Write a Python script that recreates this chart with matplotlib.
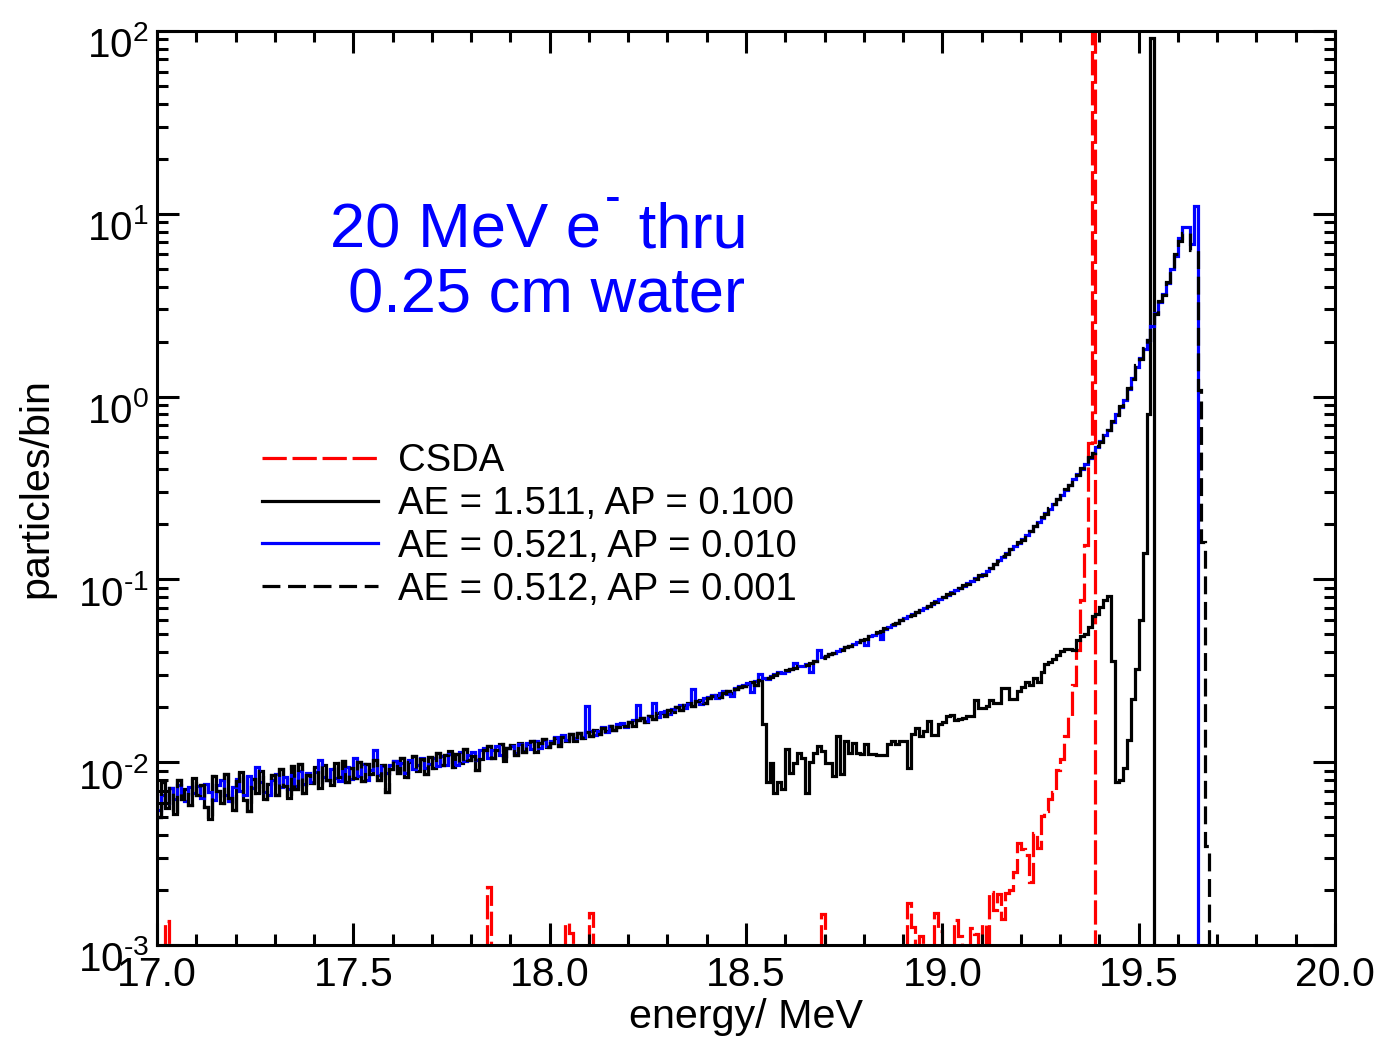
import numpy as np
import matplotlib
matplotlib.use("Agg")
import matplotlib.pyplot as plt
import matplotlib.transforms as mtransforms
from matplotlib.lines import Line2D
from matplotlib.ticker import MultipleLocator, LogLocator, FuncFormatter, NullFormatter

plt.rcParams['font.family'] = 'Liberation Sans'
plt.rcParams['mathtext.fontset'] = 'custom'
plt.rcParams['mathtext.rm'] = 'Liberation Sans'
plt.rcParams['mathtext.it'] = 'Liberation Sans:italic'

# 0.01 MeV bins from 17.00 to 20.00
e_lo, bin_w, n_bins = 17.0, 0.01, 300

# AE=1.511/AP=0.100 and AE=0.512/AP=0.001 runs agree below 18.54 MeV
black_low = [
    0.0050, 0.0078, 0.0056, 0.0072, 0.0052, 0.0080, 0.0063, 0.0071, 0.0058, 0.0082,
    0.0066, 0.0075, 0.0057, 0.0049, 0.0084, 0.0070, 0.0060, 0.0086, 0.0064, 0.0055,
    0.0079, 0.0088, 0.0062, 0.0054, 0.0081, 0.0068, 0.0090, 0.0063, 0.0076, 0.0085,
    0.0066, 0.0092, 0.0074, 0.0064, 0.0095, 0.0071, 0.0098, 0.0068, 0.0085, 0.0077,
    0.0094, 0.0072, 0.0097, 0.0080, 0.0075, 0.0099, 0.0083, 0.0101, 0.0078, 0.0093,
    0.0082, 0.0100, 0.0079, 0.0098, 0.0086, 0.0103, 0.0080, 0.0097, 0.0069, 0.0092,
    0.0101, 0.0087, 0.0106, 0.0083, 0.0100, 0.0108, 0.0089, 0.0104, 0.0086, 0.0107,
    0.0093, 0.0112, 0.0097, 0.0109, 0.0115, 0.0094, 0.0111, 0.0099, 0.0118, 0.0103,
    0.0108, 0.0091, 0.0104, 0.0116, 0.0122, 0.0105, 0.0117, 0.0125, 0.0101, 0.0119,
    0.0124, 0.0110, 0.0127, 0.0114, 0.0126, 0.0131, 0.0113, 0.0128, 0.0134, 0.0121,
    0.0127, 0.0136, 0.0122, 0.0138, 0.0130, 0.0142, 0.0131, 0.0144, 0.0135, 0.0147,
    0.0139, 0.0150, 0.0142, 0.0154, 0.0148, 0.0158, 0.0150, 0.0155, 0.0162, 0.0158,
    0.0165, 0.0158, 0.0170, 0.0175, 0.0166, 0.0180, 0.0172, 0.0185, 0.0187, 0.0180,
    0.0192, 0.0189, 0.0201, 0.0194, 0.0205, 0.0210, 0.0203, 0.0215, 0.0220, 0.0212,
    0.0224, 0.0229, 0.0234, 0.0226, 0.0240, 0.0246, 0.0238, 0.0252, 0.0257, 0.0262,
    0.0268, 0.0274, 0.0266, 0.0280,
]

# AE=1.511, AP=0.100 from 18.54 to 19.54 MeV
ap100_tail = [
    0.0161, 0.0078, 0.0099, 0.0068, 0.0078, 0.0071, 0.0118, 0.0087, 0.0099, 0.0112,
    0.0105, 0.0068, 0.0100, 0.0112, 0.0122, 0.0115, 0.0099, 0.0099, 0.0084, 0.0139,
    0.0086, 0.0130, 0.0112, 0.0128, 0.0112, 0.0111, 0.0126, 0.0111, 0.0111, 0.0110,
    0.0110, 0.0109, 0.0126, 0.0130, 0.0126, 0.0130, 0.0130, 0.0093, 0.0142, 0.0154,
    0.0139, 0.0148, 0.0168, 0.0140, 0.0140, 0.0161, 0.0165, 0.0178, 0.0182, 0.0171,
    0.0173, 0.0175, 0.0178, 0.0178, 0.0220, 0.0198, 0.0198, 0.0204, 0.0220, 0.0211,
    0.0211, 0.0254, 0.0254, 0.0221, 0.0221, 0.0245, 0.0259, 0.0276, 0.0265, 0.0288,
    0.0276, 0.0313, 0.0343, 0.0354, 0.0365, 0.0387, 0.0405, 0.0418, 0.0418, 0.0413,
    0.0465, 0.0490, 0.0500, 0.0550, 0.0630, 0.0650, 0.0710, 0.0774, 0.0810, 0.0356,
    0.0078, 0.0080, 0.0093, 0.0132, 0.0223, 0.0322, 0.0600, 0.1400, 0.8000, 92.0,
    0.0,
]

# AE=0.512, AP=0.001 from 18.54 to 19.67 MeV
ap001_tail = [
    0.0288, 0.0287, 0.0294, 0.0301, 0.0309, 0.0312,
    0.0319, 0.0325, 0.0329, 0.0336, 0.0341, 0.0340, 0.0351, 0.0358, 0.0366, 0.0372,
    0.0379, 0.0393, 0.0395, 0.0411, 0.0413, 0.0428, 0.0431, 0.0448, 0.0452, 0.0469,
    0.0473, 0.0491, 0.0495, 0.0515, 0.0522, 0.0541, 0.0549, 0.0569, 0.0577, 0.0599,
    0.0609, 0.0631, 0.0641, 0.0666, 0.0676, 0.0703, 0.0714, 0.0742, 0.0754, 0.0783,
    0.0797, 0.0828, 0.0843, 0.0878, 0.0894, 0.0931, 0.0949, 0.0989, 0.1010, 0.1053,
    0.106, 0.112, 0.115, 0.122, 0.126, 0.134, 0.138, 0.147, 0.151, 0.161,
    0.165, 0.177, 0.183, 0.197, 0.204, 0.220, 0.229, 0.246, 0.257, 0.277,
    0.288, 0.312, 0.327, 0.356, 0.372, 0.405, 0.427, 0.466, 0.490, 0.535,
    0.566, 0.620, 0.655, 0.732, 0.793, 0.888, 0.948, 1.11, 1.25, 1.48,
    1.61, 1.85, 2.03, 2.45, 2.82, 3.33, 3.60, 4.25, 4.90, 6.00,
    7.1, 7.9, 7.9, 6.3, 6.3, 1.09, 0.16, 0.0035,
]

# AE=0.521, AP=0.010 from 17.00 to 19.64 MeV
ap010 = [
    0.0055, 0.0066, 0.0060, 0.0072, 0.0063, 0.0075, 0.0067, 0.0061, 0.0073, 0.0068,
    0.0074, 0.0064, 0.0076, 0.0069, 0.0062, 0.0075, 0.0080, 0.0066, 0.0061, 0.0073,
    0.0081, 0.0070, 0.0066, 0.0084, 0.0072, 0.0094, 0.0078, 0.0069, 0.0066, 0.0080,
    0.0086, 0.0073, 0.0083, 0.0071, 0.0085, 0.0074, 0.0089, 0.0076, 0.0087, 0.0078,
    0.0088, 0.0103, 0.0083, 0.0080, 0.0092, 0.0082, 0.0079, 0.0090, 0.0094, 0.0081,
    0.0106, 0.0084, 0.0098, 0.0080, 0.0091, 0.0117, 0.0085, 0.0095, 0.0087, 0.0097,
    0.0101, 0.0088, 0.0099, 0.0087, 0.0103, 0.0092, 0.0096, 0.0105, 0.0093, 0.0098,
    0.0106, 0.0095, 0.0108, 0.0097, 0.0111, 0.0100, 0.0096, 0.0113, 0.0102, 0.0110,
    0.0114, 0.0103, 0.0117, 0.0120, 0.0106, 0.0116, 0.0123, 0.0110, 0.0108, 0.0120,
    0.0123, 0.0112, 0.0126, 0.0115, 0.0128, 0.0118, 0.0130, 0.0120, 0.0132, 0.0122,
    0.0131, 0.0138, 0.0127, 0.0140, 0.0132, 0.0142, 0.0135, 0.0145, 0.0137, 0.0203,
    0.0149, 0.0141, 0.0148, 0.0156, 0.0147, 0.0158, 0.0150, 0.0161, 0.0164, 0.0155,
    0.0166, 0.0170, 0.0205, 0.0174, 0.0167, 0.0179, 0.0212, 0.0176, 0.0188, 0.0191,
    0.0184, 0.0196, 0.0200, 0.0206, 0.0197, 0.0209, 0.0250, 0.0217, 0.0209, 0.0224,
    0.0228, 0.0234, 0.0225, 0.0239, 0.0244, 0.0235, 0.0230, 0.0256, 0.0261, 0.0266,
    0.0272, 0.0243, 0.0279, 0.0305, 0.0290, 0.0284, 0.0297, 0.0305, 0.0312, 0.0308,
    0.0316, 0.0322, 0.0348, 0.0338, 0.0334, 0.0345, 0.0312, 0.0360, 0.0410, 0.0375,
    0.0382, 0.0390, 0.0398, 0.0408, 0.0416, 0.0425, 0.0434, 0.0445, 0.0455, 0.0466,
    0.0440, 0.0488, 0.0499, 0.0512, 0.0470, 0.0538, 0.0552, 0.0566, 0.0580, 0.0596,
    0.0612, 0.0628, 0.0645, 0.0662, 0.0680, 0.0699, 0.0718, 0.0738, 0.0758, 0.0779,
    0.0801, 0.0824, 0.0848, 0.0873, 0.0899, 0.0926, 0.0954, 0.0984, 0.1015, 0.1040,
    0.107, 0.111, 0.116, 0.121, 0.127, 0.133, 0.139, 0.146, 0.152, 0.159,
    0.166, 0.175, 0.185, 0.195, 0.206, 0.218, 0.231, 0.244, 0.259, 0.274,
    0.290, 0.309, 0.330, 0.352, 0.375, 0.400, 0.430, 0.461, 0.494, 0.530,
    0.570, 0.614, 0.660, 0.725, 0.80, 0.88, 0.96, 1.10, 1.27, 1.46,
    1.63, 1.83, 2.05, 2.42, 2.85, 3.30, 3.65, 4.2, 5.0, 5.9,
    7.4, 8.5, 8.5, 6.8, 11.0,
]

# CSDA: isolated low-count bins, then the tail from 19.12 MeV up to the peak bin
csda_sparse_e = [17.02, 17.84, 18.04, 18.05, 18.10, 18.69, 18.91, 18.92, 18.94,
                 18.98, 18.99, 19.03, 19.04, 19.07, 19.08, 19.10]
csda_sparse_v = [0.00135, 0.00208, 0.00132, 0.00117, 0.0015, 0.00147, 0.0017, 0.00125,
                 0.00112, 0.0015, 0.0012, 0.00137, 0.00112, 0.00124, 0.00115, 0.0013]
csda_tail_start = 19.12
csda_tail = [0.00196, 0.00155, 0.0019, 0.00138, 0.00193, 0.0020, 0.0025, 0.0036,
             0.00335, 0.0031, 0.0022, 0.0041, 0.0034, 0.0051, 0.0054, 0.0063,
             0.0069, 0.0091, 0.0104, 0.0139, 0.0178, 0.0265, 0.041, 0.077,
             0.155, 0.56, 150.0]

edges = np.round(e_lo + bin_w * np.arange(n_bins + 1), 2)


def to_bins(vals, start=e_lo):
    out = np.zeros(n_bins)
    i0 = int(round((start - e_lo) / bin_w))
    out[i0:i0 + len(vals)] = vals
    return out


csda = to_bins(csda_tail, csda_tail_start)
for e, v in zip(csda_sparse_e, csda_sparse_v):
    csda[int(round((e - e_lo) / bin_w))] = v
h_ap100 = to_bins(black_low + ap100_tail)
h_ap010 = to_bins(ap010)
h_ap001 = to_bins(black_low + ap001_tail)

W, H = 1381, 1038
fig = plt.figure(figsize=(W / 100, H / 100), dpi=100)
ax = fig.add_axes([157 / W, 1 - 945 / H, (1335 - 157) / W, (945 - 31) / H])
ax.set_yscale('log', nonpositive='clip')

lw = 2.3
red_dash = (0, (7.6, 1.8))
blk_dash = (0, (5.6, 2.4))
ax.stairs(csda, edges, baseline=None, color='red', lw=lw, linestyle=red_dash)
ax.stairs(h_ap100, edges, baseline=None, color='black', lw=lw)
ax.stairs(h_ap010, edges, baseline=None, color='blue', lw=lw)
ax.stairs(h_ap001, edges, baseline=None, color='black', lw=lw, linestyle=blk_dash)

ax.set_xlim(17.0, 20.0)
ax.set_ylim(1e-3, 1e2)

ax.xaxis.set_major_locator(MultipleLocator(0.5))
ax.xaxis.set_minor_locator(MultipleLocator(0.1))
ax.xaxis.set_major_formatter(FuncFormatter(lambda v, p: '%.1f' % v))
ax.yaxis.set_major_locator(LogLocator(base=10, numticks=10))
ax.yaxis.set_minor_locator(LogLocator(base=10, subs=np.arange(2, 10), numticks=10))
ax.yaxis.set_minor_formatter(NullFormatter())
ax.yaxis.set_major_formatter(
    FuncFormatter(lambda v, p: r'$10^{\text{%d}}$' % round(np.log10(v))))

ax.tick_params(which='both', direction='in', top=True, right=True, width=2.2, color='black')
ax.tick_params(which='major', length=16)
ax.tick_params(which='minor', length=8)
ax.tick_params(axis='x', which='major', labelsize=29.5, pad=8)
ax.tick_params(axis='y', which='major', labelsize=29, pad=6)
for s in ax.spines.values():
    s.set_linewidth(2.2)

# push the decade labels down so the superscript sits by the tick
shift = mtransforms.ScaledTranslation(0, -0.11, fig.dpi_scale_trans)
for t in ax.yaxis.get_major_ticks():
    t.label1.set_transform(t.label1.get_transform() + shift)

ax.set_xlabel('energy/ MeV', fontsize=29.7)
ax.xaxis.set_label_coords(0.5, -0.058)
ax.set_ylabel('particles/bin', fontsize=29.7)
ax.yaxis.set_label_coords(-0.086, 0.5)

# title, with a small raised hyphen after the e
t1 = fig.text(330 / W, 1 - 248 / H, '20 MeV e', fontsize=45.5, color='blue',
              ha='left', va='baseline')
t2 = ax.annotate('-', xy=(1, 1), xycoords=t1, xytext=(3, 17), textcoords='offset points',
                 fontsize=34, color='blue', ha='left', va='top')
ax.annotate(' thru', xy=(1, 0), xycoords=(t2, t1), xytext=(0, 0),
            textcoords='offset points', fontsize=45.5, color='blue', ha='left', va='bottom')
fig.text(348 / W, 1 - 312 / H, '0.25 cm water', fontsize=45.5, color='blue',
         ha='left', va='baseline')

handles = [
    Line2D([], [], color='red', lw=lw, linestyle=red_dash),
    Line2D([], [], color='black', lw=lw),
    Line2D([], [], color='blue', lw=lw),
    Line2D([], [], color='black', lw=lw, linestyle=blk_dash),
]
labels = ['CSDA', 'AE = 1.511, AP = 0.100', 'AE = 0.521, AP = 0.010',
          'AE = 0.512, AP = 0.001']
fig.legend(handles, labels, loc='upper left', bbox_to_anchor=(262 / W, 1 - 443 / H),
           frameon=False, fontsize=27.5, borderpad=0, borderaxespad=0,
           handlelength=3.04, handletextpad=0.52, labelspacing=0.18)

fig.savefig('out.png', dpi=100)
